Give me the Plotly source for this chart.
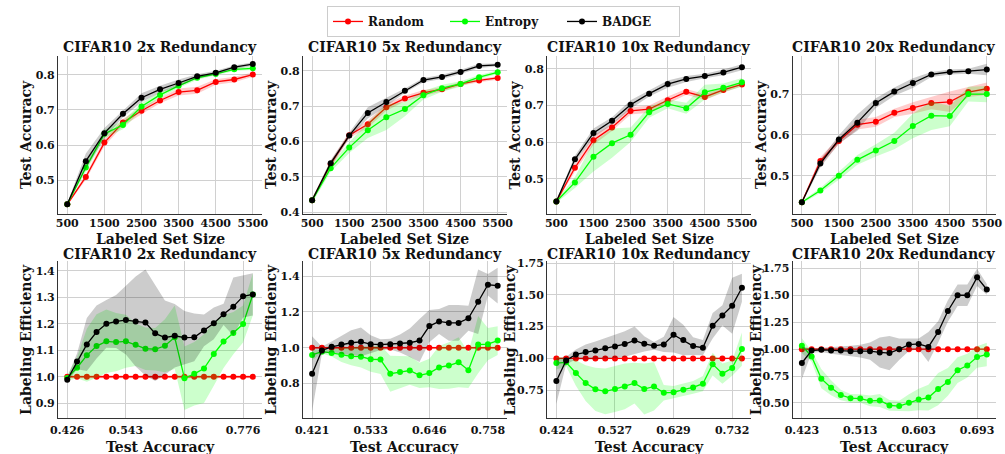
import plotly.graph_objects as go

# ---------------- data ----------------
SIZES = [500, 1000, 1500, 2000, 2500, 3000, 3500, 4000, 4500, 5000, 5500]
SIZE_TICKS = [500, 1500, 2500, 3500, 4500, 5500]
METHODS = ["Random", "Entropy", "BADGE"]
REDUNDANCY = ["2x", "5x", "10x", "20x"]

# Test accuracy vs labeled set size (mean, sd)
acc_2x_random = [0.431, 0.509, 0.607, 0.664, 0.698, 0.727, 0.751, 0.756, 0.780, 0.787, 0.801]
acc_2x_random_sd = [0.003, 0.008, 0.010, 0.010, 0.010, 0.008, 0.010, 0.010, 0.008, 0.008, 0.006]
acc_2x_entropy = [0.431, 0.536, 0.632, 0.657, 0.710, 0.743, 0.769, 0.792, 0.803, 0.816, 0.819]
acc_2x_entropy_sd = [0.003, 0.010, 0.012, 0.012, 0.010, 0.008, 0.006, 0.006, 0.005, 0.005, 0.005]
acc_2x_badge = [0.431, 0.554, 0.634, 0.689, 0.735, 0.759, 0.777, 0.796, 0.806, 0.822, 0.831]
acc_2x_badge_sd = [0.003, 0.022, 0.015, 0.010, 0.013, 0.010, 0.010, 0.006, 0.006, 0.005, 0.005]

acc_5x_random = [0.434, 0.536, 0.618, 0.649, 0.697, 0.722, 0.738, 0.748, 0.763, 0.773, 0.780]
acc_5x_random_sd = [0.005, 0.010, 0.008, 0.010, 0.010, 0.008, 0.008, 0.006, 0.005, 0.005, 0.005]
acc_5x_entropy = [0.434, 0.525, 0.583, 0.632, 0.669, 0.692, 0.731, 0.751, 0.763, 0.782, 0.796]
acc_5x_entropy_sd = [0.008, 0.010, 0.015, 0.022, 0.036, 0.020, 0.012, 0.010, 0.008, 0.006, 0.005]
acc_5x_badge = [0.434, 0.539, 0.617, 0.681, 0.712, 0.744, 0.774, 0.783, 0.797, 0.814, 0.817]
acc_5x_badge_sd = [0.005, 0.008, 0.008, 0.016, 0.012, 0.006, 0.006, 0.006, 0.006, 0.006, 0.004]

acc_10x_random = [0.438, 0.530, 0.605, 0.640, 0.685, 0.690, 0.714, 0.737, 0.723, 0.742, 0.757]
acc_10x_random_sd = [0.004, 0.010, 0.012, 0.010, 0.010, 0.010, 0.010, 0.008, 0.008, 0.007, 0.005]
acc_10x_entropy = [0.438, 0.490, 0.560, 0.597, 0.620, 0.681, 0.704, 0.692, 0.736, 0.748, 0.763]
acc_10x_entropy_sd = [0.004, 0.015, 0.040, 0.040, 0.020, 0.015, 0.012, 0.015, 0.020, 0.012, 0.012]
acc_10x_badge = [0.438, 0.553, 0.625, 0.658, 0.702, 0.732, 0.758, 0.772, 0.780, 0.790, 0.804]
acc_10x_badge_sd = [0.004, 0.010, 0.012, 0.010, 0.012, 0.008, 0.010, 0.008, 0.006, 0.008, 0.008]

acc_20x_random = [0.435, 0.536, 0.585, 0.625, 0.632, 0.654, 0.666, 0.678, 0.681, 0.705, 0.713]
acc_20x_random_sd = [0.003, 0.010, 0.008, 0.012, 0.012, 0.010, 0.014, 0.015, 0.025, 0.012, 0.015]
acc_20x_entropy = [0.435, 0.464, 0.500, 0.539, 0.562, 0.585, 0.622, 0.647, 0.646, 0.700, 0.700]
acc_20x_entropy_sd = [0.003, 0.006, 0.010, 0.012, 0.015, 0.020, 0.030, 0.035, 0.025, 0.018, 0.020]
acc_20x_badge = [0.435, 0.530, 0.589, 0.630, 0.678, 0.706, 0.727, 0.748, 0.754, 0.756, 0.760]
acc_20x_badge_sd = [0.003, 0.010, 0.010, 0.020, 0.012, 0.010, 0.012, 0.006, 0.006, 0.006, 0.014]

# Labeling efficiency vs test accuracy (grid, mean, sd)
grid_2x = [0.4260, 0.4454, 0.4649, 0.4843, 0.5038, 0.5232, 0.5427, 0.5621, 0.5816, 0.6010,
           0.6204, 0.6399, 0.6593, 0.6788, 0.6982, 0.7177, 0.7371, 0.7566, 0.7760, 0.7954]
grid_2x_labels = ["0.426", "0.543", "0.66", "0.776"]
grid_5x = [0.4210, 0.4397, 0.4584, 0.4772, 0.4959, 0.5146, 0.5333, 0.5521, 0.5708, 0.5895,
           0.6082, 0.6269, 0.6457, 0.6644, 0.6831, 0.7018, 0.7206, 0.7393, 0.7580, 0.7767]
grid_5x_labels = ["0.421", "0.533", "0.646", "0.758"]
grid_10x = [0.4240, 0.4411, 0.4582, 0.4753, 0.4924, 0.5096, 0.5267, 0.5438, 0.5609, 0.5780,
            0.5951, 0.6122, 0.6293, 0.6464, 0.6636, 0.6807, 0.6978, 0.7149, 0.7320, 0.7491]
grid_10x_labels = ["0.424", "0.527", "0.629", "0.732"]
grid_20x = [0.423, 0.438, 0.453, 0.468, 0.483, 0.498, 0.513, 0.528, 0.543, 0.558,
            0.573, 0.588, 0.603, 0.618, 0.633, 0.648, 0.663, 0.678, 0.693, 0.708]
grid_20x_labels = ["0.423", "0.513", "0.603", "0.693"]

eff_random = [1.0, 1.0, 1.0, 1.0, 1.0, 1.0, 1.0, 1.0, 1.0, 1.0,
              1.0, 1.0, 1.0, 1.0, 1.0, 1.0, 1.0, 1.0, 1.0, 1.0]
eff_random_sd = [0.006, 0.006, 0.006, 0.006, 0.006, 0.006, 0.006, 0.006, 0.006, 0.006,
                 0.006, 0.006, 0.006, 0.006, 0.006, 0.006, 0.006, 0.006, 0.006, 0.006]

eff_2x_entropy = [0.995, 1.034, 1.081, 1.116, 1.134, 1.131, 1.134, 1.121, 1.106, 1.104,
                  1.117, 1.149, 0.994, 1.011, 1.031, 1.086, 1.133, 1.165, 1.199, 1.311]
eff_2x_entropy_sd = [0.010, 0.040, 0.100, 0.120, 0.120, 0.110, 0.100, 0.080, 0.080, 0.080,
                     0.100, 0.120, 0.120, 0.120, 0.130, 0.120, 0.100, 0.080, 0.070, 0.080]
eff_2x_badge = [0.989, 1.058, 1.122, 1.169, 1.200, 1.209, 1.214, 1.209, 1.205, 1.164,
                1.148, 1.155, 1.148, 1.149, 1.175, 1.202, 1.236, 1.265, 1.304, 1.311]
eff_2x_badge_sd = [0.010, 0.030, 0.100, 0.100, 0.090, 0.100, 0.130, 0.170, 0.200, 0.180,
                   0.140, 0.120, 0.100, 0.090, 0.060, 0.060, 0.040, 0.110, 0.080, 0.080]

eff_5x_entropy = [0.960, 0.978, 0.971, 0.961, 0.952, 0.950, 0.936, 0.934, 0.855, 0.864,
                  0.873, 0.846, 0.859, 0.890, 0.901, 0.919, 0.875, 1.018, 1.020, 1.040]
eff_5x_entropy_sd = [0.030, 0.010, 0.020, 0.040, 0.050, 0.060, 0.070, 0.080, 0.100, 0.090,
                     0.080, 0.070, 0.080, 0.120, 0.130, 0.140, 0.100, 0.160, 0.090, 0.080]
eff_5x_badge = [0.855, 0.985, 1.005, 1.018, 1.028, 1.033, 1.020, 1.017, 1.020, 1.024,
                1.028, 1.040, 1.121, 1.147, 1.139, 1.139, 1.165, 1.257, 1.352, 1.347]
eff_5x_badge_sd = [0.210, 0.020, 0.030, 0.050, 0.070, 0.080, 0.050, 0.030, 0.030, 0.050,
                   0.080, 0.120, 0.090, 0.070, 0.100, 0.100, 0.070, 0.180, 0.060, 0.100]

eff_10x_entropy = [0.963, 0.969, 0.885, 0.806, 0.757, 0.741, 0.759, 0.780, 0.806, 0.759,
                   0.780, 0.730, 0.733, 0.754, 0.772, 0.801, 0.955, 0.880, 0.924, 1.073]
eff_10x_entropy_sd = [0.050, 0.030, 0.100, 0.140, 0.170, 0.180, 0.180, 0.180, 0.160, 0.200,
                      0.190, 0.060, 0.050, 0.050, 0.050, 0.060, 0.090, 0.080, 0.060, 0.130]
eff_10x_badge = [0.822, 0.984, 1.031, 1.050, 1.063, 1.079, 1.094, 1.113, 1.141, 1.115,
                 1.099, 1.110, 1.186, 1.144, 1.097, 1.084, 1.257, 1.338, 1.414, 1.555]
eff_10x_badge_sd = [0.180, 0.030, 0.040, 0.060, 0.070, 0.080, 0.090, 0.100, 0.110, 0.060,
                    0.030, 0.060, 0.140, 0.120, 0.070, 0.060, 0.100, 0.080, 0.220, 0.110]

eff_20x_entropy = [1.033, 0.933, 0.726, 0.641, 0.574, 0.544, 0.541, 0.520, 0.523, 0.477,
                   0.471, 0.502, 0.532, 0.550, 0.629, 0.696, 0.805, 0.848, 0.927, 0.951]
eff_20x_entropy_sd = [0.070, 0.050, 0.090, 0.070, 0.050, 0.040, 0.040, 0.050, 0.060, 0.050,
                      0.050, 0.080, 0.100, 0.120, 0.150, 0.130, 0.120, 0.110, 0.100, 0.110]
eff_20x_badge = [0.872, 0.988, 0.994, 0.988, 0.988, 0.982, 0.982, 0.982, 0.970, 0.964,
                 1.000, 1.043, 1.049, 1.021, 1.161, 1.356, 1.502, 1.502, 1.669, 1.556]
eff_20x_badge_sd = [0.150, 0.020, 0.020, 0.030, 0.040, 0.050, 0.060, 0.080, 0.140, 0.160,
                    0.100, 0.060, 0.050, 0.140, 0.100, 0.100, 0.100, 0.100, 0.080, 0.050]

# ---------------- style ----------------
W, H = 1005, 454
FONT = "DejaVu Serif"
COLORS = {"Random": "#ff0000", "Entropy": "#00ff00", "BADGE": "#000000"}
FILLS = {"Random": "rgba(255,0,0,0.2)", "Entropy": "rgba(0,255,0,0.2)", "BADGE": "rgba(0,0,0,0.2)"}

# panel pixel boxes (left, right) and rows (top, bottom)
COLS_PX = [(50.7, 257.7), (299.0, 506.0), (546.7, 753.7), (795.7, 1002.0)]
ROWS_PX = [(52.7, 214.0), (262.3, 422.7)]
TOP_YRANGE = [(0.404, 0.855), (0.396, 0.843), (0.4045, 0.8356), (0.407, 0.794)]
TOP_YTICKS = [[0.5, 0.6, 0.7, 0.8], [0.4, 0.5, 0.6, 0.7, 0.8], [0.5, 0.6, 0.7, 0.8], [0.5, 0.6, 0.7]]
BOT_YRANGE = [(0.843, 1.437), (0.606, 1.484), (0.529, 1.765), (0.357, 1.82)]
BOT_YTICKS = [[0.9, 1.0, 1.1, 1.2, 1.3, 1.4], [0.8, 1.0, 1.2, 1.4],
              [0.75, 1.0, 1.25, 1.5, 1.75], [0.5, 0.75, 1.0, 1.25, 1.5, 1.75]]
BOT_YFMT = [".1f", ".1f", ".2f", ".2f"]
YLABEL_X = [[17.5, 266, 514, 763], [17.5, 266, 509, 758]]

top_data = [
    (acc_2x_random, acc_2x_random_sd, acc_2x_entropy, acc_2x_entropy_sd, acc_2x_badge, acc_2x_badge_sd),
    (acc_5x_random, acc_5x_random_sd, acc_5x_entropy, acc_5x_entropy_sd, acc_5x_badge, acc_5x_badge_sd),
    (acc_10x_random, acc_10x_random_sd, acc_10x_entropy, acc_10x_entropy_sd, acc_10x_badge, acc_10x_badge_sd),
    (acc_20x_random, acc_20x_random_sd, acc_20x_entropy, acc_20x_entropy_sd, acc_20x_badge, acc_20x_badge_sd),
]
bot_data = [
    (grid_2x, grid_2x_labels, eff_2x_entropy, eff_2x_entropy_sd, eff_2x_badge, eff_2x_badge_sd),
    (grid_5x, grid_5x_labels, eff_5x_entropy, eff_5x_entropy_sd, eff_5x_badge, eff_5x_badge_sd),
    (grid_10x, grid_10x_labels, eff_10x_entropy, eff_10x_entropy_sd, eff_10x_badge, eff_10x_badge_sd),
    (grid_20x, grid_20x_labels, eff_20x_entropy, eff_20x_entropy_sd, eff_20x_badge, eff_20x_badge_sd),
]

fig = go.Figure()


def add_series(x, mean, sd, method, xa, ya, legend):
    upper = [m + s for m, s in zip(mean, sd)]
    lower = [m - s for m, s in zip(mean, sd)]
    fig.add_trace(go.Scatter(
        x=list(x) + list(x)[::-1], y=upper + lower[::-1], fill="toself",
        fillcolor=FILLS[method], line=dict(width=0), mode="lines",
        hoverinfo="skip", showlegend=False, xaxis=xa, yaxis=ya))
    fig.add_trace(go.Scatter(
        x=x, y=mean, mode="lines+markers", name=method,
        line=dict(color=COLORS[method], width=1.3),
        marker=dict(color=COLORS[method], size=6),
        showlegend=legend, xaxis=xa, yaxis=ya))


def px_x(v):
    return v / W


def px_y(v):
    return 1 - v / H


axis_common = dict(showgrid=True, gridcolor="#d0d0d0", gridwidth=1.2, zeroline=False,
                   showline=True, linecolor="#333333", linewidth=1, ticks="",
                   tickfont=dict(family=FONT, size=11, color="#111", weight="bold"))

annotations = []
for row in range(2):
    for col in range(4):
        n = row * 4 + col + 1
        xa, ya = f"x{n}", f"y{n}"
        xl, xr = COLS_PX[col]
        yt, yb = ROWS_PX[row]
        if row == 0:
            r, r_sd, e, e_sd, b, b_sd = top_data[col]
            add_series(SIZES, r, r_sd, "Random", xa, ya, n == 1)
            add_series(SIZES, e, e_sd, "Entropy", xa, ya, n == 1)
            add_series(SIZES, b, b_sd, "BADGE", xa, ya, n == 1)
            span = SIZES[-1] - SIZES[0]
            xcfg = dict(range=[SIZES[0] - 0.05 * span, SIZES[-1] + 0.05 * span],
                        tickvals=SIZE_TICKS, ticktext=[str(t) for t in SIZE_TICKS],
                        ticklabelstandoff=-1)
            ycfg = dict(range=list(TOP_YRANGE[col]), tickvals=TOP_YTICKS[col], tickformat=".1f")
            xlabel, ylabel = "Labeled Set Size", "Test Accuracy"
            xlabel_y = 240
        else:
            g, glab, e, e_sd, b, b_sd = bot_data[col]
            add_series(g, eff_random, eff_random_sd, "Random", xa, ya, False)
            add_series(g, e, e_sd, "Entropy", xa, ya, False)
            add_series(g, b, b_sd, "BADGE", xa, ya, False)
            span = g[-1] - g[0]
            xcfg = dict(range=[g[0] - 0.05 * span, g[-1] + 0.05 * span],
                        tickvals=[g[0], g[6], g[12], g[18]], ticktext=glab, ticklabelstandoff=1)
            ycfg = dict(range=list(BOT_YRANGE[col]), tickvals=BOT_YTICKS[col], tickformat=BOT_YFMT[col])
            xlabel, ylabel = "Test Accuracy", "Labeling Efficiency"
            xlabel_y = 452
        fig.update_layout({
            f"xaxis{n}": dict(domain=[px_x(xl), px_x(xr)], anchor=ya, **xcfg, **axis_common),
            f"yaxis{n}": dict(domain=[px_y(yb), px_y(yt)], anchor=xa, **ycfg, **axis_common),
        })
        title_y = 44 if row == 0 else 255
        annotations.append(dict(text=f"CIFAR10 {REDUNDANCY[col]} Redundancy", x=px_x((xl + xr) / 2),
                                y=px_y(title_y), xref="paper", yref="paper", showarrow=False,
                                xanchor="center", yanchor="middle",
                                font=dict(family=FONT, size=14, color="#111", weight="bold")))
        annotations.append(dict(text=xlabel, x=px_x((xl + xr) / 2), y=px_y(xlabel_y),
                                xref="paper", yref="paper", showarrow=False,
                                xanchor="center", yanchor="middle",
                                font=dict(family=FONT, size=14, color="#111", weight="bold")))
        annotations.append(dict(text=ylabel, x=px_x(YLABEL_X[row][col]), y=px_y((yt + yb) / 2),
                                xref="paper", yref="paper", showarrow=False, textangle=-90,
                                xanchor="center", yanchor="middle",
                                font=dict(family=FONT, size=14, color="#111", weight="bold")))

fig.update_layout(
    width=W, height=H, margin=dict(l=0, r=0, t=0, b=0),
    paper_bgcolor="white", plot_bgcolor="white",
    font=dict(family=FONT, color="#111", weight="bold"),
    annotations=annotations,
    legend=dict(orientation="h", x=0.5, xanchor="center", y=px_y(2), yanchor="top",
                bordercolor="#cccccc", borderwidth=1, bgcolor="white",
                font=dict(family=FONT, size=12, color="#111", weight="bold"),
                itemwidth=30, tracegroupgap=0, entrywidth=72, entrywidthmode="pixels"),
)

fig.write_html("out.html")
